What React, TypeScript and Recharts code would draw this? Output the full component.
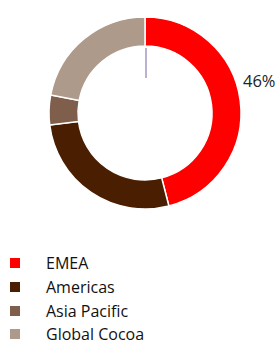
import React from 'react';
import { PieChart, Pie, Cell, Legend } from 'recharts';

const REGIONS = ['EMEA', 'Americas', 'Asia Pacific', 'Global Cocoa'];
const SHARES = [46, 27, 5, 22];
const COLORS = ['#FF0000', '#4A1E00', '#7F5F4B', '#AE9A8B'];

const data = REGIONS.map((name, i) => ({ name, value: SHARES[i] }));

const FONT = '"Open Sans", "Noto Sans", sans-serif';

// only EMEA carries a label; the stray leader line sits at the top of the hole
const renderLabel = (props: any) => {
  const { cx, cy, innerRadius, outerRadius, index, percent } = props;
  if (index !== 0) return null;
  return (
    <g>
      <line x1={cx + 1} y1={cy - innerRadius + 2} x2={cx + 1} y2={cy - innerRadius + 32} stroke="#7465A0" strokeWidth={1} />
      <text x={cx + outerRadius + 2} y={cy - 33} fill="#222" fontSize={16.5} fontFamily={FONT} dominantBaseline="central">
        {`${Math.round(percent * 100)}%`}
      </text>
    </g>
  );
};

// keep the legend in data order (recharts sorts it by name otherwise)
const renderLegend = () => (
  <div style={{ fontFamily: FONT, fontSize: 16, lineHeight: '16px', color: '#111' }}>
    {REGIONS.map((name, i) => (
      <div key={name} style={{ display: 'flex', alignItems: 'center', height: 16, marginBottom: i < REGIONS.length - 1 ? 7.8 : 0 }}>
        <span style={{ display: 'inline-block', width: 10, height: 10, background: COLORS[i], marginLeft: 10, marginRight: 26 }} />
        <span>{name}</span>
      </div>
    ))}
  </div>
);

export default function App() {
  return (
    <>
      <style>{'html,body{margin:0;padding:0;overflow:hidden}'}</style>
      <PieChart width={279} height={347} margin={{ top: 0, right: 0, bottom: 0, left: 0 }}>
        <Pie
          data={data}
          dataKey="value"
          nameKey="name"
          cx={145}
          cy={113}
          innerRadius={67}
          outerRadius={96}
          startAngle={90}
          endAngle={-270}
          stroke="#fff"
          strokeWidth={1.5}
          label={renderLabel}
          labelLine={false}
          isAnimationActive={false}
        >
          {data.map((d, i) => (
            <Cell key={d.name} fill={COLORS[i]} />
          ))}
        </Pie>
        <Legend
          content={renderLegend}
          layout="vertical"
          wrapperStyle={{ left: 0, top: 255, width: 279 }}
        />
      </PieChart>
    </>
  );
}
